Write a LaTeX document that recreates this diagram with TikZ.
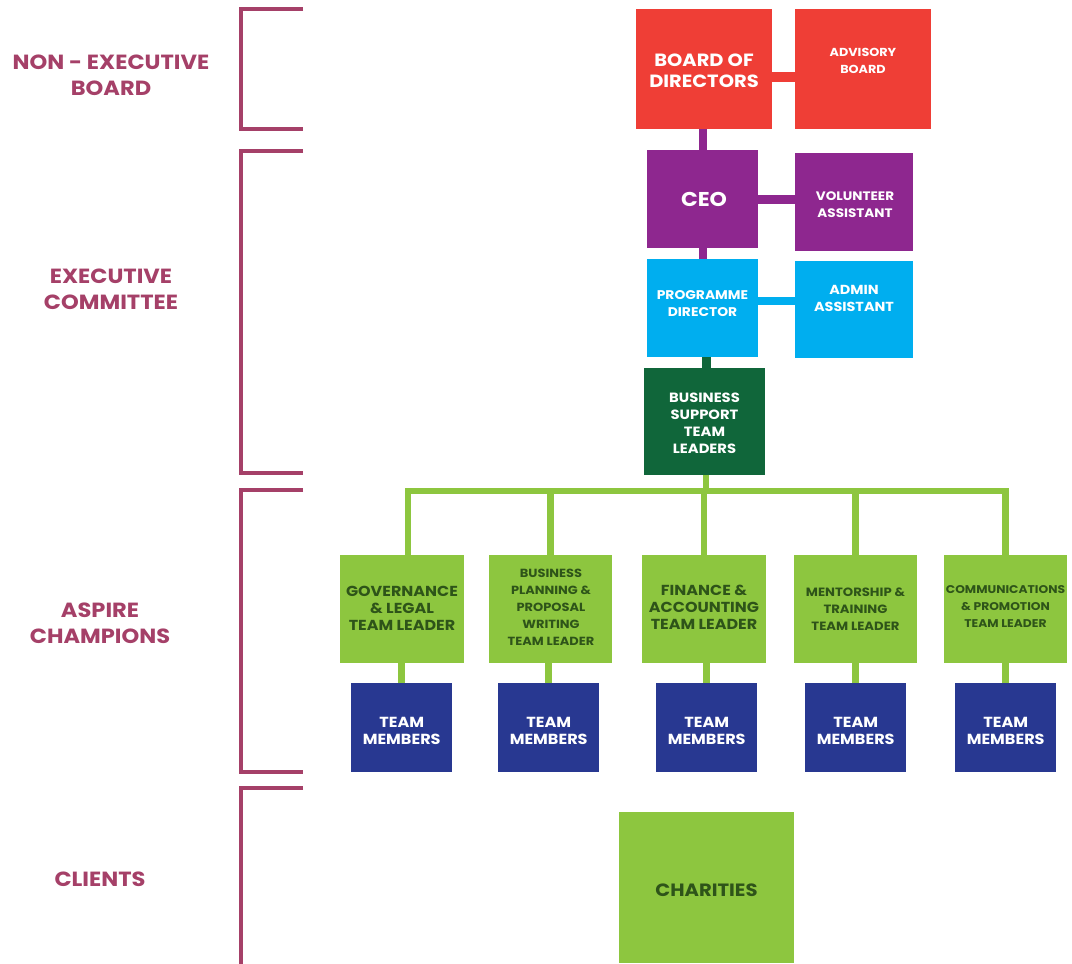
\documentclass[tikz,border=0pt]{standalone}
\usepackage{fontspec}
\setmainfont{Poppins}[FakeStretch=1.1]
\definecolor{brk}{HTML}{A54068}
\definecolor{cred}{HTML}{EF3E36}
\definecolor{cpur}{HTML}{8E278F}
\definecolor{ccya}{HTML}{00AEEF}
\definecolor{cdkg}{HTML}{10663A}
\definecolor{clgr}{HTML}{8DC63F}
\definecolor{cnav}{HTML}{283891}
\definecolor{gtxt}{HTML}{2E5419}
\newcommand\fs[2]{\fontsize{#1}{#2}\selectfont\bfseries}
\begin{document}
\begin{tikzpicture}[x=1pt,y=-1pt,
  box/.style={anchor=north west,inner sep=0pt},
  txt/.style={align=center,inner sep=0pt},
  lbl/.style={txt,text=brk,font=\fs{20.5}{26}},
  bracket/.style={draw=brk,line width=4pt},
  wt/.style={txt,text=white},
  gt/.style={txt,text=gtxt},
  gline/.style={draw=clgr,line width=6.5pt},
]
\useasboundingbox[fill=white] (0,0) rectangle (1072,964);
% brackets
\draw[bracket] (303,9) -- (241,9) -- (241,129) -- (303,129);
\draw[bracket] (303,151) -- (241,151) -- (241,473) -- (303,473);
\draw[bracket] (303,490) -- (241,490) -- (241,772) -- (303,772);
\draw[bracket] (303,788) -- (241,788) -- (241,966);
% labels
\node[lbl] (lnon) at (111,75) {NON - EXECUTIVE\\BOARD};
\node[lbl] (lexe) at (111,289) {EXECUTIVE\\COMMITTEE};
\node[lbl] (lasp) at (100,623) {ASPIRE\\CHAMPIONS};
\node[lbl] (lcli) at (100,879) {CLIENTS};
% top boxes
\node[box,fill=cred,minimum width=136pt,minimum height=120pt] (bod) at (636,9) {};
\node[wt,font=\fs{17.7}{21}] (bodt) at (704,70.5) {BOARD OF\\DIRECTORS};
\node[box,fill=cred,minimum width=136pt,minimum height=120pt] (adv) at (795,9) {};
\node[wt,font=\fs{11.6}{17}] (advt) at (863,60.5) {ADVISORY\\BOARD};
\node[box,fill=cpur,minimum width=111pt,minimum height=98pt] (ceo) at (647,150) {};
\node[wt,font=\fs{20}{21}] (ceot) at (704,199) {CEO};
\node[box,fill=cpur,minimum width=118pt,minimum height=98pt] (vol) at (795,153) {};
\node[wt,font=\fs{12.3}{17}] (volt) at (855,204.5) {VOLUNTEER\\ASSISTANT};
\node[box,fill=ccya,minimum width=111pt,minimum height=98pt] (pd) at (647,259) {};
\node[wt,font=\fs{12.6}{17}] (pdt) at (702.5,303.5) {PROGRAMME\\DIRECTOR};
\node[box,fill=ccya,minimum width=118pt,minimum height=97pt] (adm) at (795,261) {};
\node[wt,font=\fs{13.1}{17}] (admt) at (854,298.5) {ADMIN\\ASSISTANT};
\node[box,fill=cdkg,minimum width=121pt,minimum height=107pt] (bst) at (644,368) {};
\node[wt,font=\fs{13.4}{17}] (bstt) at (704.5,423.5) {BUSINESS\\SUPPORT\\TEAM\\LEADERS};
% green team leader boxes
\node[box,fill=clgr,minimum width=124pt,minimum height=108pt] (g1) at (340,555) {};
\node[gt,font=\fs{14.5}{17}] (g1t) at (402,608) {GOVERNANCE\\\& LEGAL\\TEAM LEADER};
\node[box,fill=clgr,minimum width=123pt,minimum height=108pt] (g2) at (489,555) {};
\node[gt,font=\fs{11.8}{17}] (g2t) at (551,607) {BUSINESS\\PLANNING \&\\PROPOSAL\\WRITING\\TEAM LEADER};
\node[box,fill=clgr,minimum width=124pt,minimum height=108pt] (g3) at (642,555) {};
\node[gt,font=\fs{14.5}{17}] (g3t) at (704,607) {FINANCE \&\\ACCOUNTING\\TEAM LEADER};
\node[box,fill=clgr,minimum width=123pt,minimum height=108pt] (g4) at (794,555) {};
\node[gt,font=\fs{12}{17}] (g4t) at (855.5,609) {MENTORSHIP \&\\TRAINING\\TEAM LEADER};
\node[box,fill=clgr,minimum width=123pt,minimum height=108pt] (g5) at (944,555) {};
\node[gt,font=\fs{11.2}{17}] (g5t) at (1005.5,607) {COMMUNICATIONS\\\& PROMOTION\\TEAM LEADER};
% team members
\foreach \n/\x in {t1/351,t2/498,t3/656,t4/805,t5/955}{
  \node[box,fill=cnav,minimum width=101pt,minimum height=89pt] (\n) at (\x,683) {};
  \node[wt,font=\fs{14.6}{17}] (\n t) at ([yshift=-3pt]\n.center) {TEAM\\MEMBERS};
}
\node[box,fill=clgr,minimum width=175pt,minimum height=151pt] (cha) at (619,812) {};
\node[gt,font=\fs{17.8}{17}] (chat) at (706.5,890) {CHARITIES};
% connectors
\draw[draw=cred,line width=10pt] ([yshift=-8pt]bod.east) -- ([yshift=-8pt]adv.west);
\draw[draw=cpur,line width=8pt] ([xshift=-1.5pt]bod.south) -- ([xshift=-1.5pt]bod.south |- ceo.north);
\draw[draw=cpur,line width=9pt] (ceo.east) -- (ceo.east -| vol.west);
\draw[draw=cpur,line width=8pt] (ceo.south) -- (ceo.south |- pd.north);
\draw[draw=ccya,line width=8.5pt] ([yshift=7pt]pd.east) -- ([yshift=7pt]pd.east -| adm.west);
\draw[draw=cdkg,line width=9pt] ([xshift=4pt]pd.south) -- ([xshift=4pt]pd.south |- bst.north);
\coordinate (bus) at (706,491);
\draw[gline] (bst.south -| bus) -- (bus);
\draw[gline] ([xshift=6pt]g1.north) -- ([xshift=6pt]g1.north |- bus) -- (g5.north |- bus) -- (g5.north);
\foreach \g in {g2,g3,g4}{ \draw[gline] (\g.north) -- (\g.north |- bus); }
\foreach \g/\t in {g1/t1,g2/t2,g3/t3,g4/t4,g5/t5}{ \draw[gline] (\t.north) -- (\t.north |- \g.south); }
\end{tikzpicture}
\end{document}
